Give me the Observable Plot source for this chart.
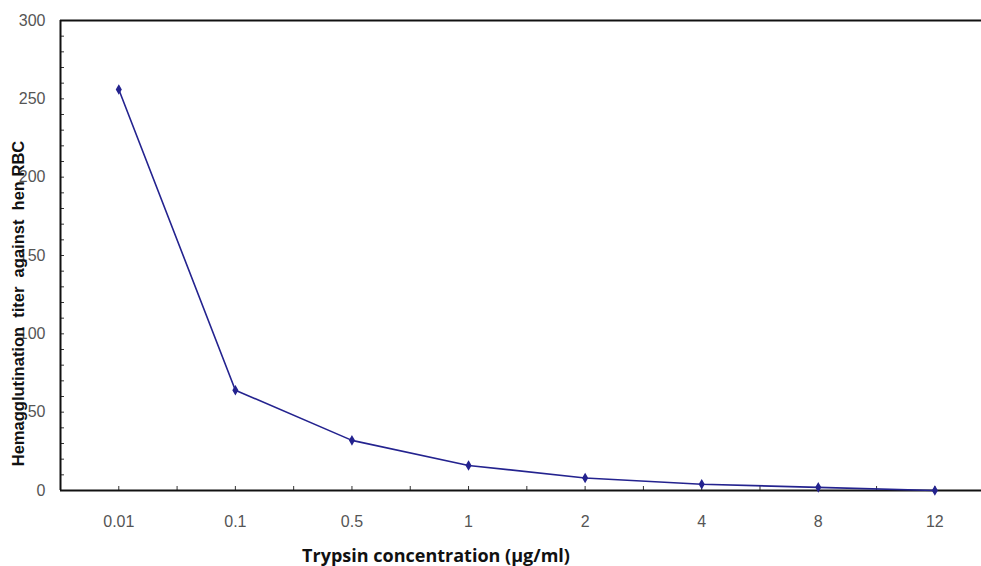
<!DOCTYPE html>
<html>
<head>
<meta charset="utf-8">
<script src="https://cdn.jsdelivr.net/npm/d3@7"></script>
<script src="https://cdn.jsdelivr.net/npm/@observablehq/plot@0.6"></script>
<style>
  html, body { margin: 0; padding: 0; background: #fff; }
</style>
</head>
<body>
<div id="chart"></div>
<script>
const concentrations = ["0.01", "0.1", "0.5", "1", "2", "4", "8", "12"];
const titers = [256, 64, 32, 16, 8, 4, 2, 0];
const yMajorTicks = [0, 50, 100, 150, 200, 250, 300];
const yTitle = "Hemagglutination  titer  against  hen RBC";
const xTitle = "Trypsin concentration (µg/ml)";

const data = concentrations.map((c, i) => ({i, c, v: titers[i]}));
const xMinor = d3.range(0, 7.01, 0.5);
const yMinor = d3.range(0, 301, 10);
const navy = "#24238f";

const chart = Plot.plot({
  width: 981,
  height: 566,
  marginLeft: 60,
  marginRight: 0,
  marginTop: 20,
  marginBottom: 76,
  style: {fontFamily: "Liberation Sans, Arial, sans-serif", background: "#fff"},
  x: {type: "linear", domain: [-0.5, 7.4]},
  y: {domain: [0, 300]},
  marks: [
    Plot.axisY(yMinor, {tickSize: -4, tickFormat: null, stroke: "#333", text: null, label: null}),
    Plot.axisY(yMajorTicks, {tickSize: 0, tickPadding: 15, fontSize: 16, fill: "#555", label: null}),
    Plot.axisX(xMinor, {tickSize: -4, stroke: "#333", text: null, label: null}),
    Plot.axisX(d3.range(0, 8), {tickSize: 0, tickPadding: 25, fontSize: 16, fill: "#555", label: null,
      tickFormat: i => concentrations[i]}),
    Plot.ruleY([0], {stroke: "#111", strokeWidth: 2}),
    Plot.ruleY([300], {stroke: "#111", strokeWidth: 2}),
    Plot.ruleX([-0.5], {stroke: "#111", strokeWidth: 2}),
    Plot.line(data, {x: "i", y: "v", stroke: navy, strokeWidth: 1.6}),
    Plot.dot(data, {x: "i", y: "v", symbol: "diamond", r: 2.3, fill: navy, stroke: navy}),
    Plot.text([yTitle], {frameAnchor: "left", textAnchor: "middle", rotate: -90, dx: -42, dy: 48,
      fontWeight: "bold", fontSize: 16.5, fill: "#111"}),
    Plot.text([xTitle], {frameAnchor: "bottom", dx: -85, dy: 71,
      fontWeight: "bold", fontSize: 18, fill: "#111", fontFamily: "Open Sans"})
  ]
});
document.getElementById("chart").appendChild(chart);
</script>
</body>
</html>
